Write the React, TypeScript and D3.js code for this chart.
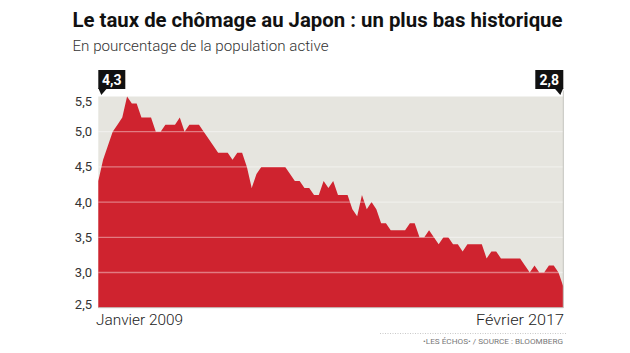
import React from "react";
import * as d3 from "d3";

const title = "Le taux de chômage au Japon : un plus bas historique";
const subtitle = "En pourcentage de la population active";
const startLabel = "Janvier 2009";
const endLabel = "Février 2017";
const sourceLabel = "•LES ÉCHOS• / SOURCE : BLOOMBERG";

// Monthly unemployment rate, Jan 2009 -> Feb 2017
const rates: number[] = [
  4.3, 4.6, 4.8, 5.0, 5.1, 5.2, 5.5, 5.4, 5.4, 5.2, 5.2, 5.2,
  5.0, 5.0, 5.1, 5.1, 5.1, 5.2, 5.0, 5.1, 5.1, 5.1, 5.0, 4.9,
  4.8, 4.7, 4.7, 4.7, 4.6, 4.7, 4.7, 4.5, 4.2, 4.4, 4.5, 4.5,
  4.5, 4.5, 4.5, 4.5, 4.4, 4.3, 4.3, 4.2, 4.2, 4.1, 4.1, 4.3,
  4.2, 4.3, 4.1, 4.1, 4.1, 3.9, 3.8, 4.1, 3.9, 4.0, 3.9, 3.7,
  3.7, 3.6, 3.6, 3.6, 3.6, 3.7, 3.7, 3.5, 3.5, 3.6, 3.5, 3.4,
  3.5, 3.5, 3.4, 3.4, 3.3, 3.4, 3.4, 3.4, 3.4, 3.2, 3.3, 3.3,
  3.2, 3.2, 3.2, 3.2, 3.2, 3.1, 3.0, 3.1, 3.0, 3.0, 3.1, 3.1,
  3.0, 2.8,
];
const yTicks: number[] = [2.5, 3.0, 3.5, 4.0, 4.5, 5.0, 5.5];
const startValueLabel = "4,3";
const endValueLabel = "2,8";

const fmt = (v: number) => v.toFixed(1).replace(".", ",");

export default function App() {
  const W = 630;
  const H = 353;
  const left = 98.3;
  const right = 563.3;
  const top = 96.5;
  const bottom = 307.7;

  const x = d3.scaleLinear().domain([0, rates.length - 1]).range([left, right]);
  const y = d3.scaleLinear().domain([2.5, 5.5]).range([bottom, top]);

  const area = d3
    .area<number>()
    .x((_, i) => x(i))
    .y0(y(2.5))
    .y1((d) => y(d))
    .curve(d3.curveLinear);

  const font = "Roboto, 'Liberation Sans', Arial, sans-serif";

  return (
    <svg
      width={W}
      height={H}
      viewBox={`0 0 ${W} ${H}`}
      style={{ position: "absolute", left: 0, top: 0, background: "#fff" }}
    >
      <rect x={0} y={0} width={W} height={H} fill="#fff" />
      <text
        x={72.5}
        y={27.3}
        fontFamily={font}
        fontWeight={700}
        fontSize={20}
        fill="#111"
        textLength={490}
        lengthAdjust="spacingAndGlyphs"
      >
        {title}
      </text>
      <text
        x={72.5}
        y={51}
        fontFamily={font}
        fontWeight={300}
        fontSize={15}
        fill="#333"
        textLength={256}
        lengthAdjust="spacingAndGlyphs"
      >
        {subtitle}
      </text>

      <rect x={left} y={top} width={right - left} height={bottom - top} fill="#e6e5df" />
      <path d={area(rates) || ""} fill="#cf232f" />

      {yTicks
        .filter((t) => t > 2.5 && t < 5.5)
        .map((t) => (
          <line
            key={t}
            x1={left}
            x2={right}
            y1={y(t)}
            y2={y(t)}
            stroke="#fff"
            strokeOpacity={0.4}
            strokeWidth={1.3}
          />
        ))}
      <line x1={left} x2={right} y1={bottom} y2={bottom} stroke="#c4c3bf" strokeWidth={1} />
      <line x1={right} x2={right} y1={top - 6} y2={bottom} stroke="#c4c3bf" strokeWidth={1} />

      {yTicks.map((t) => (
        <text
          key={t}
          x={92}
          y={Math.min(Math.max(y(t), 101.7), 304.5)}
          dy="0.35em"
          textAnchor="end"
          fontFamily={font}
          fontSize={13}
          fill="#333"
        >
          {fmt(t)}
        </text>
      ))}

      {/* start marker */}
      <g>
        <rect x={x(0)} y={70} width={27} height={19} fill="#111" />
        <path d={`M${x(0)},88 L${x(0) + 9},88 L${x(0) + 3},95 Z`} fill="#111" />
        <text
          x={x(0) + 13.5}
          y={84.5}
          textAnchor="middle"
          fontFamily={font}
          fontWeight={700}
          fontSize={14}
          fill="#fff"
        >
          {startValueLabel}
        </text>
      </g>
      {/* end marker */}
      <g>
        <rect x={x(rates.length - 1) - 28} y={70} width={28} height={19} fill="#111" />
        <path
          d={`M${x(rates.length - 1)},88 L${x(rates.length - 1) - 9},88 L${x(rates.length - 1) - 3},95 Z`}
          fill="#111"
        />
        <text
          x={x(rates.length - 1) - 14}
          y={84.5}
          textAnchor="middle"
          fontFamily={font}
          fontWeight={700}
          fontSize={14}
          fill="#fff"
        >
          {endValueLabel}
        </text>
      </g>

      <text
        x={96}
        y={324.5}
        fontFamily={font}
        fontWeight={300}
        fontSize={14.5}
        fill="#222"
        textLength={87}
        lengthAdjust="spacingAndGlyphs"
      >
        {startLabel}
      </text>
      <text
        x={564}
        y={324.5}
        textAnchor="end"
        fontFamily={font}
        fontWeight={300}
        fontSize={14.5}
        fill="#222"
        textLength={88}
        lengthAdjust="spacingAndGlyphs"
      >
        {endLabel}
      </text>

      <line
        x1={380}
        x2={566}
        y1={333.5}
        y2={333.5}
        stroke="#bbb"
        strokeWidth={0.8}
        strokeDasharray="1,1.5"
      />
      <text
        x={563}
        y={344}
        textAnchor="end"
        fontFamily={font}
        fontSize={7.5}
        fill="#777"
        textLength={140}
        lengthAdjust="spacingAndGlyphs"
      >
        {sourceLabel}
      </text>
    </svg>
  );
}
